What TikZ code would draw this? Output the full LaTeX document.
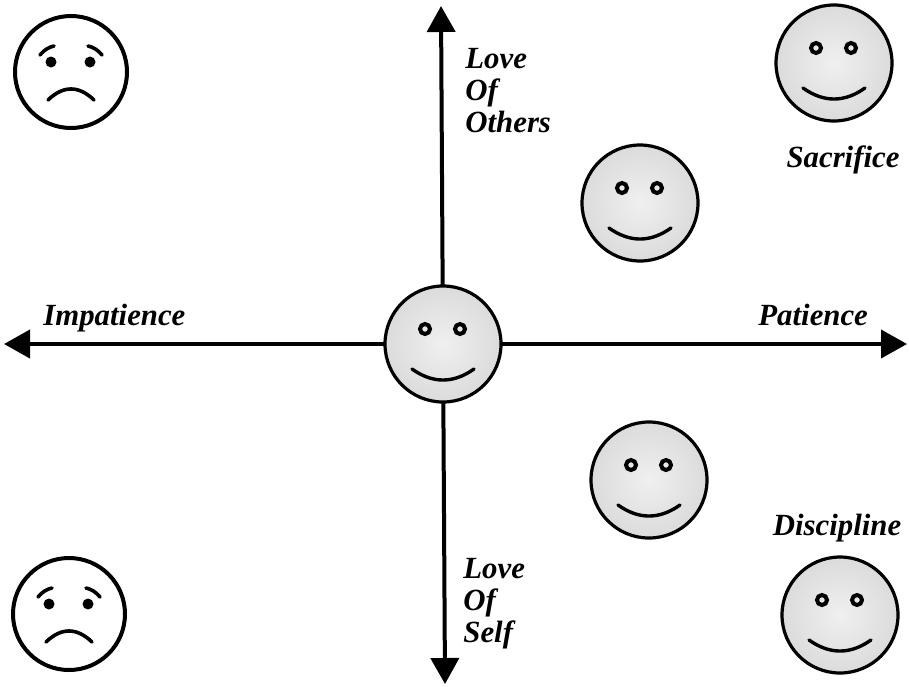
\documentclass[tikz,border=0pt]{standalone}
\usepackage{fontspec}
\setmainfont{Liberation Serif}
\usepackage{tikz}
\usetikzlibrary{shapes,arrows,positioning,calc,arrows.meta}

\tikzset{
  axis/.style={line width=2pt, {Triangle[length=13pt,width=14pt]}-{Triangle[length=13pt,width=14pt]}},
  smiley/.style={circle, draw, line width=1.6pt, minimum size=58pt, inner sep=0pt,
    inner color=black!6, outer color=black!14},
  frowny/.style={circle, draw, fill=white, line width=2pt, minimum size=56pt, inner sep=0pt},
  feature/.style={line width=1.7pt, line cap=round},
  eye/.style={line width=2pt},
  brow/.style={line width=1.8pt, line cap=round},
  lbl/.style={font=\fontsize{15.4}{16}\selectfont\bfseries\itshape, inner sep=0pt, align=left}
}

\begin{document}
\begin{tikzpicture}[x=0.5pt, y=-0.5pt]
  \useasboundingbox (0,0) rectangle (909,686);

  % axes
  \coordinate (W) at (4,344);
  \coordinate (E) at (907,344);
  \coordinate (N) at (441,6);
  \coordinate (S) at (445,684);
  \draw[axis] (W) -- (E);
  \draw[axis] (N) -- (S);

  % happy faces
  \foreach \nm/\px/\py in {c/443/344, ou/640/203, or/834/63, lu/649/480, lr/840/615} {
    \node[smiley] (\nm) at (\px,\py) {};
    \draw[eye] ([shift={(-18,-15)}]\nm.center) circle[radius=5];
    \draw[eye] ([shift={(17,-15)}]\nm.center) circle[radius=5];
    \draw[feature] ([shift={(-31,25)}]\nm.center) .. controls +(20.7,14.7) and +(-20.7,14.7) .. ([shift={(31,25)}]\nm.center);
  }

  % sad faces
  \foreach \nm/\px/\py in {tl/71/72, bl/69/614} {
    \node[frowny] (\nm) at (\px,\py) {};
    \fill ([shift={(-20,-10)}]\nm.center) circle[radius=5.5];
    \fill ([shift={(19,-10)}]\nm.center) circle[radius=5.5];
    \draw[brow] ([shift={(-31,-17)}]\nm.center) .. controls +(4,-5) and +(-5,1) .. ([shift={(-17,-26)}]\nm.center);
    \draw[brow] ([shift={(17,-26)}]\nm.center) .. controls +(5,1) and +(-4,-5) .. ([shift={(31,-17)}]\nm.center);
    \draw[brow] ([shift={(-23,28)}]\nm.center) .. controls +(15.3,-14.7) and +(-15.3,-14.7) .. ([shift={(23,28)}]\nm.center);
  }

  % labels
  \node[lbl, anchor=base west] (others) at (465,132) {Love\\Of\\Others};
  \node[lbl, anchor=base west] (self) at (463,642) {Love\\Of\\Self};
  \node[lbl, anchor=base west] (impat) at (43,325) {Impatience};
  \node[lbl, anchor=base west] (pat) at (758,325) {Patience};
  \node[lbl, anchor=base] (sacr) at (843,167) {Sacrifice};
  \node[lbl, anchor=base] (disc) at (837,535) {Discipline};
\end{tikzpicture}
\end{document}
